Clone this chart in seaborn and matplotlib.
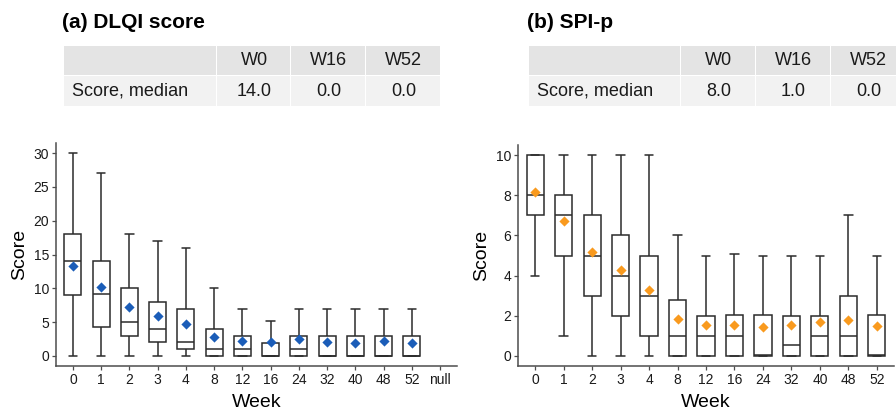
import numpy as np
import pandas as pd
import matplotlib
matplotlib.use("Agg")
import matplotlib.pyplot as plt
from matplotlib.patches import Rectangle
import seaborn as sns

# ---------------- data ----------------
weeks_a = ["0", "1", "2", "3", "4", "8", "12", "16", "24", "32", "40", "48", "52", "null"]
weeks_b = ["0", "1", "2", "3", "4", "8", "12", "16", "24", "32", "40", "48", "52"]
box_weeks = ["0", "1", "2", "3", "4", "8", "12", "16", "24", "32", "40", "48", "52"]

dlqi_min = [0, 0, 0, 0, 0, 0, 0, 0, 0, 0, 0, 0, 0]
dlqi_q1 = [9, 4.2, 3, 2, 1, 0, 0, 0, 0, 0, 0, 0, 0]
dlqi_med = [14, 9.1, 5, 4, 2, 1, 1, 0, 1, 0, 0, 0, 0]
dlqi_q3 = [18, 14, 10, 8, 7, 4, 3, 1.9, 3, 3, 3, 3, 3]
dlqi_max = [30, 27.1, 18, 17, 16, 10, 7, 5.1, 6.95, 7, 7, 7, 7]
dlqi_mean = [13.3, 10.2, 7.2, 5.9, 4.7, 2.8, 2.25, 2.1, 2.45, 2.1, 1.9, 2.25, 1.9]

spi_min = [4, 1, 0, 0, 0, 0, 0, 0, 0, 0, 0, 0, 0]
spi_q1 = [7, 5, 3, 2, 1, 0, 0, 0, 0, 0, 0, 0, 0]
spi_med = [8, 7, 5, 4, 3, 1, 1, 1, 0.05, 0.53, 1, 1, 0.03]
spi_q3 = [10, 8, 7, 6, 5, 2.8, 2, 2.05, 2.05, 2, 2, 3, 2.05]
spi_max = [10, 10, 10, 10, 10, 6, 5, 5.05, 5, 5, 5, 7, 5]
spi_mean = [8.18, 6.74, 5.18, 4.29, 3.3, 1.85, 1.56, 1.56, 1.46, 1.52, 1.67, 1.8, 1.49]

table_cols = ["W0", "W16", "W52"]
table_row_label = "Score, median"
dlqi_table = ["14.0", "0.0", "0.0"]
spi_table = ["8.0", "1.0", "0.0"]

title_a = "(a) DLQI score"
title_b = "(b) SPI-p"

# ---------------- style ----------------
sns.set_theme(style="ticks")
plt.rcParams["font.family"] = ["Liberation Sans", "DejaVu Sans"]
LINE = "#2b2b2b"
AXC = "#4d4d4d"
BLUE = "#1b5db8"
ORANGE = "#f99a1e"

W, H = 896, 412
fig = plt.figure(figsize=(W / 100, H / 100), dpi=100)


def fx(px):
    return px / W


def fy(py):
    return 1 - py / H


def long_df(weeks, mn, q1, md, q3, mx):
    rows = []
    for i, w in enumerate(weeks):
        for v in (mn[i], q1[i], md[i], q3[i], mx[i]):
            rows.append({"Week": w, "Score": v})
    return pd.DataFrame(rows)


def panel(ax, order, mn, q1, md, q3, mx, mean, color, ylim, yticks):
    df = long_df(box_weeks, mn, q1, md, q3, mx)
    sns.boxplot(data=df, x="Week", y="Score", order=order, ax=ax,
                whis=(0, 100), width=0.6, color="white", linecolor=LINE,
                linewidth=1.1, saturation=1, showfliers=False)
    mdf = pd.DataFrame({"Week": box_weeks, "Mean": mean})
    sns.stripplot(data=mdf, x="Week", y="Mean", order=order, ax=ax,
                  jitter=False, marker="D", color=color, size=5.2,
                  linewidth=0, zorder=5)
    ax.set_ylim(*ylim)
    ax.set_xlim(-0.6, len(order) - 0.4)
    ax.set_yticks(yticks)
    ax.set_yticklabels([str(t) for t in yticks])
    ax.set_xlabel("Week", fontsize=14, color="black", labelpad=5)
    ax.set_ylabel("Score", fontsize=14, color="black", labelpad=4)
    sns.despine(ax=ax)
    for s in ("left", "bottom"):
        ax.spines[s].set_color(AXC)
        ax.spines[s].set_linewidth(1.1)
    ax.tick_params(axis="both", labelsize=10, colors=AXC, labelcolor="#1a1a1a",
                   length=3, width=0.9, pad=2)


# left panel
ax1 = fig.add_axes([fx(56), fy(366), fx(457 - 56), (366 - 143) / H])
panel(ax1, weeks_a, dlqi_min, dlqi_q1, dlqi_med, dlqi_q3, dlqi_max, dlqi_mean,
      BLUE, (-1.5, 31.5), [0, 5, 10, 15, 20, 25, 30])

# right panel
ax2 = fig.add_axes([fx(518), fy(366), fx(894 - 518), (366 - 145) / H])
panel(ax2, weeks_b, spi_min, spi_q1, spi_med, spi_q3, spi_max, spi_mean,
      ORANGE, (-0.5, 10.5), [0, 2, 4, 6, 8, 10])


# ---------------- tables ----------------
def table(x0, col_edges, title, values):
    fig.text(fx(x0 - 2), fy(23), title, fontsize=15, fontweight="bold",
             ha="left", va="center", color="black")
    rows = [(45, 75, "#e4e4e4"), (75, 106, "#f2f2f2")]
    for r, (ytop, ybot, c) in enumerate(rows):
        for j in range(len(col_edges) - 1):
            xl, xr = col_edges[j], col_edges[j + 1]
            fig.patches.append(Rectangle((fx(xl), fy(ybot)), fx(xr - xl - 1), (ybot - ytop - 1) / H,
                                         transform=fig.transFigure, facecolor=c,
                                         edgecolor="none", zorder=0))
    ymid_h, ymid_d = 60.5, 91
    for j, col in enumerate(table_cols):
        xc = (col_edges[j + 1] + col_edges[j + 2]) / 2
        fig.text(fx(xc), fy(ymid_h), col, fontsize=13, ha="center", va="center", color="#1a1a1a")
        fig.text(fx(xc), fy(ymid_d), values[j], fontsize=13, ha="center", va="center", color="#1a1a1a")
    fig.text(fx(col_edges[0] + 8), fy(ymid_d), table_row_label, fontsize=13,
             ha="left", va="center", color="#1a1a1a")


table(64, [64, 217, 291, 366, 441], title_a, dlqi_table)
table(529, [529, 681, 756, 831, 906], title_b, spi_table)

fig.savefig("out.png", dpi=100)
